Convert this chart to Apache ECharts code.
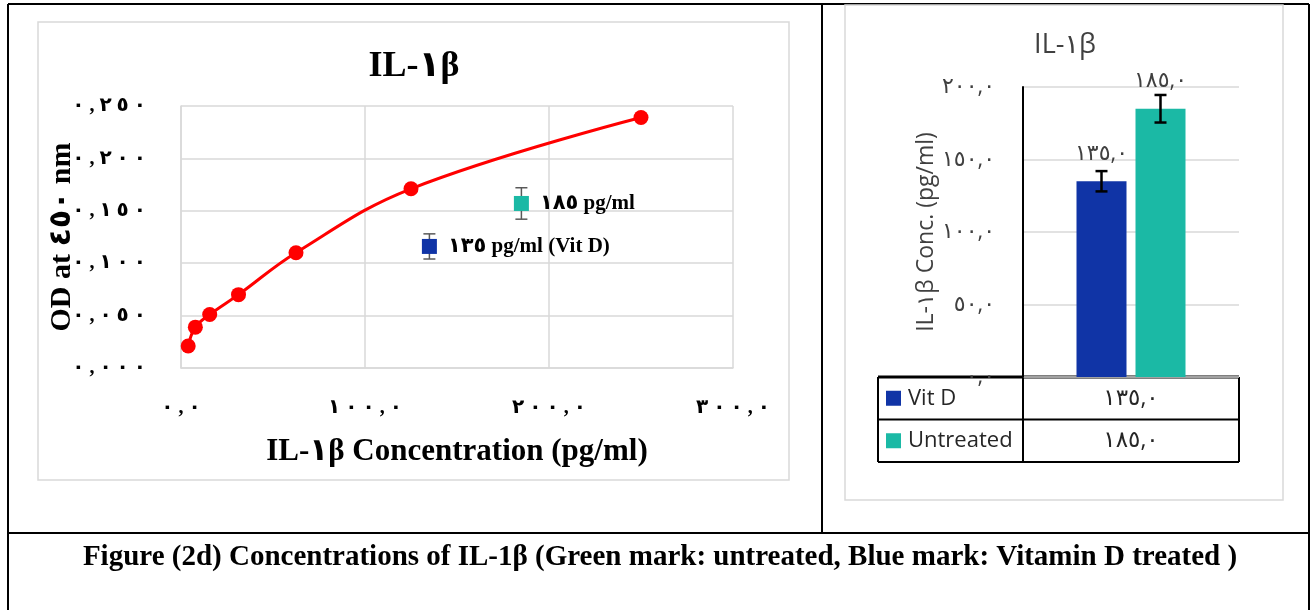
<!DOCTYPE html>
<html>
<head>
<meta charset="utf-8">
<script src="https://cdn.jsdelivr.net/npm/echarts@6/dist/echarts.min.js"></script>
<style>
  html, body { margin: 0; padding: 0; background: #fff; }
  #main { width: 1312px; height: 610px; }
</style>
</head>
<body>
<div id="main"></div>
<script>
// standard curve (left panel)
var stdConc = [3.9, 7.8, 15.6, 31.25, 62.5, 125, 250];
var stdOD = [0.021, 0.039, 0.051, 0.070, 0.110, 0.171, 0.239];

// samples
var sampleNames = ['Vit D', 'Untreated'];
var sampleConc = [135, 185];
var sampleOD = [0.116, 0.157];
var sampleODErr = [0.012, 0.015];
var sampleLabels = ['١٣٥ pg/ml (Vit D)', '١٨٥ pg/ml'];

// bar panel (right)
var barCategory = ['IL-١β'];
var barErr = [7, 9.5];
var colors = ['#1034a6', '#1bb9a5'];

var serif = '"Liberation Serif", "Times New Roman", "DejaVu Sans", serif';
var sans = '"Open Sans", "Noto Sans", "DejaVu Sans", sans-serif';

// arabic-indic digits with comma decimal
function ar(v, d) {
  return v.toFixed(d).replace('.', ',').replace(/[0-9]/g, function (c) {
    return '٠١٢٣٤٥٦٧٨٩'[c];
  });
}
// widely spaced version for the left chart ticks (LRM keeps the order)
function arSpaced(v, d) {
  return ar(v, d).split('').join('\u200E \u200E');
}

var chart = echarts.init(document.getElementById('main'));

var barWidth = 50, barGapPx = 9;

// frames, dividers, table
var graphics = [];
function line(x1, y1, x2, y2, color, w) {
  graphics.push({ type: 'line', silent: true, shape: { x1: x1, y1: y1, x2: x2, y2: y2 },
    style: { stroke: color, lineWidth: w } });
}
function text(str, x, y, font, size, weight, color, align) {
  graphics.push({ type: 'text', silent: true, x: x, y: y,
    style: { text: str, fontFamily: font, fontSize: size, fontWeight: weight, fill: color,
      align: align || 'center', verticalAlign: 'middle' } });
}
// outer black box
line(8, 4, 1309, 4, '#000', 2);
line(8, 4, 8, 610, '#000', 2);
line(1309, 4, 1309, 610, '#000', 2);
line(822, 4, 822, 533, '#000', 2);
line(8, 533, 1309, 533, '#000', 2);
// chart frames
graphics.push({ type: 'rect', silent: true, shape: { x: 38, y: 22, width: 751, height: 458 },
  style: { fill: null, stroke: '#d9d9d9', lineWidth: 1.5 } });
graphics.push({ type: 'rect', silent: true, shape: { x: 845, y: 5, width: 438, height: 495 },
  style: { fill: null, stroke: '#d9d9d9', lineWidth: 1.5 } });
// titles
text('IL-١β', 414, 67, serif, 36, 'bold', '#000');
text('IL-١β', 1065, 45, sans, 27, 'normal', '#404040');
text('Figure (2d) Concentrations of IL-1β (Green mark: untreated, Blue mark: Vitamin D treated )',
  660, 558, serif, 29, 'bold', '#000');
// data table under the bars
var tX0 = 878, tX1 = 1023, tX2 = 1239, tY0 = 377, rowH = 42.5;
line(tX0, tY0, tX2, tY0, '#000', 3);
line(tX0, tY0, tX0, tY0 + rowH * 2, '#000', 2);
line(tX1, tY0, tX1, tY0 + rowH * 2, '#000', 2);
line(tX2, tY0, tX2, tY0 + rowH * 2, '#000', 2);
line(tX0, tY0 + rowH, tX2, tY0 + rowH, '#000', 2);
line(tX0, tY0 + rowH * 2, tX2, tY0 + rowH * 2, '#000', 2);
sampleNames.forEach(function (n, i) {
  var cy = tY0 + rowH * i + rowH / 2;
  graphics.push({ type: 'rect', silent: true, shape: { x: 886, y: cy - 7.5, width: 15, height: 15 },
    style: { fill: colors[i] } });
  text(n, 908, cy, sans, 22, 'normal', '#262626', 'left');
  text(ar(sampleConc[i], 1), (tX1 + tX2) / 2, cy, sans, 23, 'normal', '#262626');
});

var option = {
  animation: false,
  backgroundColor: '#fff',
  grid: [
    { left: 181, top: 106, width: 552, height: 262, outerBoundsMode: 'none' },
    { left: 1023, top: 87, width: 216, height: 290, outerBoundsMode: 'none' }
  ],
  xAxis: [
    {
      type: 'value', gridIndex: 0, min: 0, max: 300, interval: 100,
      axisLine: { show: true, lineStyle: { color: '#d9d9d9', width: 1.5 } },
      axisTick: { show: false },
      splitLine: { show: true, lineStyle: { color: '#d9d9d9', width: 1.5 } },
      axisLabel: { margin: 30, fontFamily: serif, fontSize: 20, fontWeight: 'bold', color: '#000',
        formatter: function (v) { return arSpaced(v, 1); } },
      name: 'IL-١β Concentration (pg/ml)', nameLocation: 'middle', nameGap: 68,
      nameTextStyle: { fontFamily: serif, fontSize: 31, fontWeight: 'bold', color: '#000' }
    },
    {
      type: 'category', gridIndex: 1, data: barCategory,
      axisLine: { show: false }, axisTick: { show: false }, axisLabel: { show: false }
    }
  ],
  yAxis: [
    {
      type: 'value', gridIndex: 0, min: 0, max: 0.25, interval: 0.05,
      axisLine: { show: true, lineStyle: { color: '#d9d9d9', width: 1.5 } },
      axisTick: { show: false },
      splitLine: { show: true, lineStyle: { color: '#d9d9d9', width: 1.5 } },
      axisLabel: { margin: 35, fontFamily: serif, fontSize: 20, fontWeight: 'bold', color: '#000',
        formatter: function (v) { return arSpaced(v, 3); } },
      name: 'OD at ٤٥٠ nm', nameLocation: 'middle', nameGap: 104, nameMoveOverlap: false,
      nameTextStyle: { fontFamily: serif, fontSize: 30, fontWeight: 'bold', color: '#000' }
    },
    {
      type: 'value', gridIndex: 1, min: 0, max: 200, interval: 50,
      axisLine: { show: true, lineStyle: { color: '#000', width: 2 } },
      axisTick: { show: false },
      splitLine: { show: true, lineStyle: { color: '#d9d9d9', width: 1.5 } },
      axisLabel: { margin: 28, fontFamily: sans, fontSize: 22, color: '#404040',
        formatter: function (v) { return ar(v, 1); } },
      name: 'IL-١β Conc. (pg/ml)', nameLocation: 'middle', nameGap: 82,
      nameTextStyle: { fontFamily: sans, fontSize: 23, color: '#404040' }
    }
  ],
  series: [
    {
      type: 'line', xAxisIndex: 0, yAxisIndex: 0, smooth: 0.4,
      data: stdConc.map(function (c, i) { return [c, stdOD[i]]; }),
      symbol: 'circle', symbolSize: 15,
      lineStyle: { color: '#ff0000', width: 3 },
      itemStyle: { color: '#ff0000' }, z: 3
    },
    {
      type: 'custom', xAxisIndex: 0, yAxisIndex: 0, z: 2,
      data: sampleConc.map(function (c, i) { return [c, sampleOD[i], sampleODErr[i]]; }),
      renderItem: function (params, api) {
        var x = api.value(0), y = api.value(1), e = api.value(2);
        var t = api.coord([x, y + e]), b = api.coord([x, y - e]);
        var st = { stroke: '#595959', lineWidth: 1.5 };
        return { type: 'group', children: [
          { type: 'line', shape: { x1: t[0], y1: t[1], x2: b[0], y2: b[1] }, style: st },
          { type: 'line', shape: { x1: t[0] - 6, y1: t[1], x2: t[0] + 6, y2: t[1] }, style: st },
          { type: 'line', shape: { x1: b[0] - 6, y1: b[1], x2: b[0] + 6, y2: b[1] }, style: st }
        ] };
      }
    },
    {
      type: 'scatter', xAxisIndex: 0, yAxisIndex: 0, z: 4,
      symbol: 'rect', symbolSize: 15,
      data: sampleConc.map(function (c, i) {
        return { value: [c, sampleOD[i]], itemStyle: { color: colors[i], opacity: 1 },
          label: { formatter: sampleLabels[i] } };
      }),
      label: { show: true, position: 'right', distance: 11, fontFamily: serif, fontSize: 21,
        fontWeight: 'bold', color: '#000' }
    },
    {
      type: 'bar', name: sampleNames[0], xAxisIndex: 1, yAxisIndex: 1,
      data: [sampleConc[0]], barWidth: barWidth, barGap: (barGapPx / barWidth * 100) + '%',
      itemStyle: { color: colors[0] },
      label: { show: true, position: 'top', distance: 17, fontFamily: sans, fontSize: 22, color: '#404040',
        formatter: function (p) { return ar(p.value, 1); } }
    },
    {
      type: 'bar', name: sampleNames[1], xAxisIndex: 1, yAxisIndex: 1,
      data: [sampleConc[1]], barWidth: barWidth, barGap: (barGapPx / barWidth * 100) + '%',
      itemStyle: { color: colors[1] },
      label: { show: true, position: 'top', distance: 17, fontFamily: sans, fontSize: 22, color: '#404040',
        formatter: function (p) { return ar(p.value, 1); } }
    },
    {
      type: 'custom', xAxisIndex: 1, yAxisIndex: 1, z: 5,
      data: sampleConc.map(function (c, i) { return [i, c, barErr[i]]; }),
      renderItem: function (params, api) {
        var i = api.value(0), v = api.value(1), e = api.value(2);
        var off = (i - 0.5) * (barWidth + barGapPx);
        var t = api.coord([0, v + e]), b = api.coord([0, v - e]);
        var x = t[0] + off;
        var st = { stroke: '#000', lineWidth: 2.5 };
        return { type: 'group', children: [
          { type: 'line', shape: { x1: x, y1: t[1], x2: x, y2: b[1] }, style: st },
          { type: 'line', shape: { x1: x - 6, y1: t[1], x2: x + 6, y2: t[1] }, style: st },
          { type: 'line', shape: { x1: x - 6, y1: b[1], x2: x + 6, y2: b[1] }, style: st }
        ] };
      }
    }
  ],
  graphic: graphics
};

chart.setOption(option);
</script>
</body>
</html>
